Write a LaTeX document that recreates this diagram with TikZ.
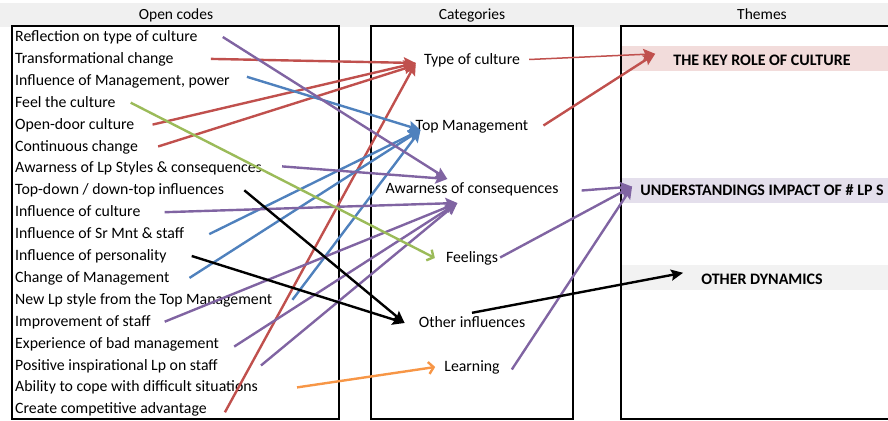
\documentclass[tikz,border=0pt]{standalone}
\usepackage{fontspec}
\setmainfont{Carlito}
\usetikzlibrary{arrows.meta,calc}

\definecolor{cred}{HTML}{C0504D}
\definecolor{cblue}{HTML}{4F81BD}
\definecolor{cpurple}{HTML}{8064A2}
\definecolor{cgreen}{HTML}{9BBB59}
\definecolor{corange}{HTML}{F79646}
\definecolor{bandpink}{HTML}{F2DCDB}
\definecolor{bandlav}{HTML}{E4DFEC}
\definecolor{bandgray}{HTML}{F2F2F2}
\definecolor{headgray}{HTML}{F0F0F0}

\begin{document}
\begin{tikzpicture}[x=1pt,y=-1pt,
  txt/.style={inner sep=0pt, text height=12pt, text depth=3pt,
              font=\fontsize{15.8}{18}\selectfont},
  code/.style={txt, anchor=west},
  cat/.style={txt, anchor=center},
  theme/.style={inner sep=0pt, anchor=base,
                font=\bfseries\fontsize{16}{18}\selectfont},
  head/.style={inner sep=0pt, anchor=base,
               font=\fontsize{15.5}{18}\selectfont},
  column/.style={draw=black},
  link/.style={line width=2.4pt, -{Stealth[length=12pt,width=11pt,inset=2pt]}},
  barb/.style={line width=2.4pt, -{Straight Barb[length=5pt,width=12pt]}},
]
\useasboundingbox (0,0) rectangle (888,420);

% header strip
\fill[headgray] (0,3) rectangle (888,27);
\node[head] (hcodes) at (176,20) {Open codes};
\node[head] (hcats)  at (472,20) {Categories};
\node[head] (hthemes) at (762,20) {Themes};

% theme bands
\fill[bandpink] (621,46) rectangle (888,71);
\fill[bandlav]  (621,178) rectangle (888,203);
\fill[bandgray] (621,265) rectangle (888,290);

% column frames
\draw[column, line width=2.6pt] (12,26) rectangle (339,419);
\draw[column, line width=2.2pt] (371,26) rectangle (573,419);
\draw[column, line width=1.6pt] (621,26) rectangle (905,419);

% open codes
\foreach \i/\t in {1/{Reflection on type of culture},
                   2/{Transformational change},
                   3/{Influence of Management, power},
                   4/{Feel the culture},
                   5/{Open-door culture},
                   6/{Continuous change},
                   7/{Awarness of Lp Styles \& consequences},
                   8/{Top-down / down-top influences},
                   9/{Influence of culture},
                   10/{Influence of Sr Mnt \& staff},
                   11/{Influence of personality},
                   12/{Change of Management},
                   13/{New Lp style from the Top Management},
                   14/{Improvement of staff},
                   15/{Experience of bad management},
                   16/{Positive inspirational Lp on staff},
                   17/{Ability to cope with difficult situations},
                   18/{Create competitive advantage}}
  \node[code] (c\i) at (15,{37+21.9*(\i-1)}) {\t};

% categories
\node[cat] (type)  at (472,59.5)  {Type of culture};
\node[cat] (top)   at (472,125.5) {Top Management};
\node[cat] (aware) at (472,188.5) {Awarness of consequences};
\node[cat] (feel)  at (472,257.5) {Feelings};
\node[cat] (other) at (472,322.5) {Other influences};
\node[cat] (learn) at (472,366.5) {Learning};

% themes
\node[theme] (key)   at (762,65)  {THE KEY ROLE OF CULTURE};
\node[theme] (under) at (762,195) {UNDERSTANDINGS IMPACT OF \# LP S};
\node[theme] (dyn)   at (762,284) {OTHER DYNAMICS};

% arrival points next to the category and theme labels
\coordinate (inType)  at ($(type.west)+(-8,3.5)$);
\coordinate (inTop)   at ($(top.west)+(5,4.5)$);
\coordinate (inAwA)   at ($(aware.west)+(62,-9.5)$);
\coordinate (inAwB)   at ($(aware.west)+(72,14.5)$);
\coordinate (inFeel)  at ($(feel.west)+(-11,0.5)$);
\coordinate (inOther) at ($(other.west)+(-14,0.5)$);
\coordinate (inLearn) at ($(learn.west)+(-9,0.5)$);
\coordinate (inKey)   at ($(key.west)+(-18,-6)$);
\coordinate (inUnder) at ($(under.west)+(-8,-3)$);
\coordinate (inDyn)   at ($(dyn.west)+(-18,-6)$);

% open codes -> Type of culture
\draw[link, cred] ($(c2.east)+(37,0)$) -- (inType);
\draw[link, cred] ($(c5.east)+(18,0)$) -- (inType);
\draw[link, cred] ($(c6.east)+(20,0)$) -- ($(inType)+(0,2)$);
\draw[link, cred] ($(c18.east)+(18,3)$) -- (inType);

% open codes -> Top Management
\draw[link, cblue] ($(c3.east)+(17,-4)$) -- (inTop);
\draw[link, cblue] ($(c10.east)+(25,0)$) -- (inTop);
\draw[link, cblue] ($(c12.east)+(20,0)$) -- (inTop);
\draw[link, cblue] ($(c13.east)+(20,0)$) -- (inTop);

% open codes -> Awarness of consequences
\draw[link, cpurple] ($(c1.east)+(25,0)$) -- (inAwA);
\draw[link, cpurple] ($(c7.east)+(20,-2)$) -- (inAwA);
\draw[link, cpurple] ($(c9.east)+(24,0)$) -- (inAwB);
\draw[link, cpurple] ($(c14.east)+(14,0)$) -- (inAwB);
\draw[link, cpurple] ($(c15.east)+(15,3)$) -- (inAwB);
\draw[link, cpurple] ($(c16.east)+(43,0)$) -- (inAwB);

% open codes -> Feelings, Other influences, Learning
\draw[barb, cgreen] ($(c4.east)+(15,0)$) -- (inFeel);
\draw[link, black] ($(c8.east)+(20,0)$) -- (inOther);
\draw[link, black] ($(c11.east)+(25,0)$) -- (inOther);
\draw[barb, corange] ($(c17.east)+(39,0)$) -- (inLearn);

% categories -> themes
\draw[link, cred, line width=1.5pt] ($(type.east)+(9,0)$) -- (inKey);
\draw[link, cred] ($(top.east)+(15,0)$) -- (inKey);
\draw[link, cpurple] ($(aware.east)+(23,2)$) -- (inUnder);
\draw[link, cpurple] ($(feel.east)+(2,0)$) -- (inUnder);
\draw[link, cpurple] ($(learn.east)+(12,3)$) -- (inUnder);
\draw[link, black] ($(other.north)+(0,-2)$) -- (inDyn);
\end{tikzpicture}
\end{document}
